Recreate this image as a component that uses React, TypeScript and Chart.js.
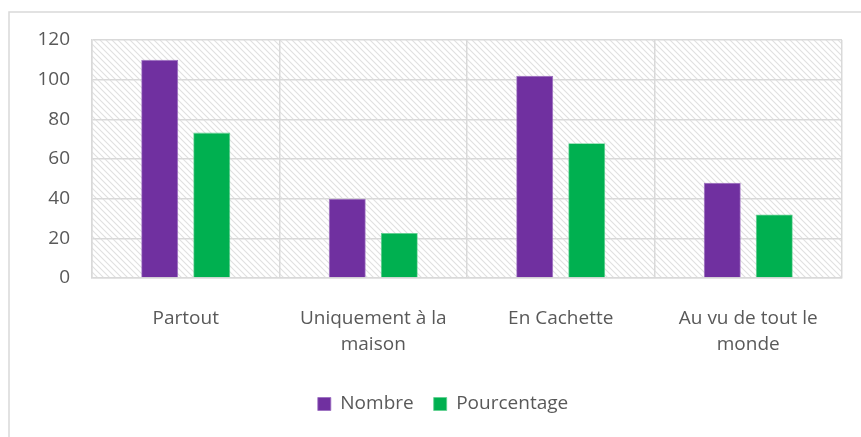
import React, { useEffect, useRef } from "react";
import { Chart, registerables } from "chart.js";

Chart.register(...registerables);

const categories: string[][] = [
  ["Partout"],
  ["Uniquement à la", "maison"],
  ["En Cachette"],
  ["Au vu de tout le", "monde"],
];
const nombre = [110, 40, 102, 48];
const pourcentage = [73.3, 22.7, 68, 32];
const yTicks = { min: 0, max: 120, step: 20 };

const FONT = "'Open Sans', 'Liberation Sans', sans-serif";
const FS = 19;

function makePattern(): CanvasPattern | null {
  const c = document.createElement("canvas");
  const s = 6;
  c.width = s;
  c.height = s;
  const g = c.getContext("2d")!;
  g.fillStyle = "#ffffff";
  g.fillRect(0, 0, s, s);
  g.strokeStyle = "#e0e0e0";
  g.lineWidth = 1.1;
  g.beginPath();
  g.moveTo(-1, -1);
  g.lineTo(s + 1, s + 1);
  g.moveTo(-1, s - 1);
  g.lineTo(1, s + 1);
  g.moveTo(s - 1, -1);
  g.lineTo(s + 1, 1);
  g.stroke();
  return g.createPattern(c, "repeat");
}

const bgPlugin = {
  id: "bgPlugin",
  afterLayout(chart: any) {
    const lg = chart.legend;
    if (lg) {
      lg.left += 22;
      lg.right += 22;
    }
  },
  beforeDraw(chart: any) {
    const { ctx, chartArea } = chart;
    ctx.save();
    ctx.fillStyle = "#ffffff";
    ctx.fillRect(0, 0, chart.width, chart.height);
    ctx.strokeStyle = "#d9d9d9";
    ctx.lineWidth = 1.5;
    ctx.strokeRect(9, 12, chart.width + 20, chart.height + 20);
    const p = makePattern();
    if (p) {
      ctx.fillStyle = p;
      ctx.fillRect(chartArea.left, chartArea.top, chartArea.right - chartArea.left, chartArea.bottom - chartArea.top);
    }
    ctx.restore();
  },
};

export default function App() {
  const ref = useRef<HTMLCanvasElement>(null);
  useEffect(() => {
    if (!ref.current) return;
    const chart = new Chart(ref.current, {
      type: "bar",
      data: {
        labels: categories,
        datasets: [
          {
            label: "Nombre",
            data: nombre,
            backgroundColor: "#7030A0",
            borderColor: "#9a6cc0",
            borderWidth: 0.8,
          },
          {
            label: "Pourcentage",
            data: pourcentage,
            backgroundColor: "#00B050",
            borderColor: "#5fd08f",
            borderWidth: 0.8,
          },
        ],
      },
      options: {
        animation: false,
        responsive: false,
        maintainAspectRatio: false,
        layout: { padding: { top: 40, right: 19, left: 0, bottom: 13.5 } },
        datasets: {
          bar: { categoryPercentage: 0.555, barPercentage: 0.71 },
        },
        scales: {
          x: {
            grid: { color: "#d9d9d9", lineWidth: 1.5, drawTicks: false },
            border: { color: "#d9d9d9", width: 1.5 },
            afterFit: (s: any) => {
              s.height = 96.5;
            },
            ticks: {
              color: "#595959",
              font: { family: FONT, size: FS, lineHeight: 1.37 },
              padding: 28,
              maxRotation: 0,
            },
          },
          y: {
            min: yTicks.min,
            max: yTicks.max,
            grid: { color: "#d9d9d9", lineWidth: 1.5, drawTicks: false },
            border: { color: "#d9d9d9", width: 1.5 },
            afterFit: (s: any) => {
              s.width = 92;
            },
            ticks: {
              stepSize: yTicks.step,
              color: "#595959",
              font: { family: FONT, size: FS },
              padding: 22,
            },
          },
        },
        plugins: {
          legend: {
            position: "bottom",
            labels: {
              color: "#595959",
              font: { family: FONT, size: FS },
              boxWidth: 13,
              boxHeight: 13,
              padding: 20,
            },
          },
          tooltip: { enabled: false },
        },
      },
      plugins: [bgPlugin],
    });
    return () => chart.destroy();
  }, []);
  return (
    <div style={{ position: "fixed", left: 0, top: 0, width: 861, height: 437 }}>
      <canvas ref={ref} width={861} height={437} style={{ display: "block" }} />
    </div>
  );
}
